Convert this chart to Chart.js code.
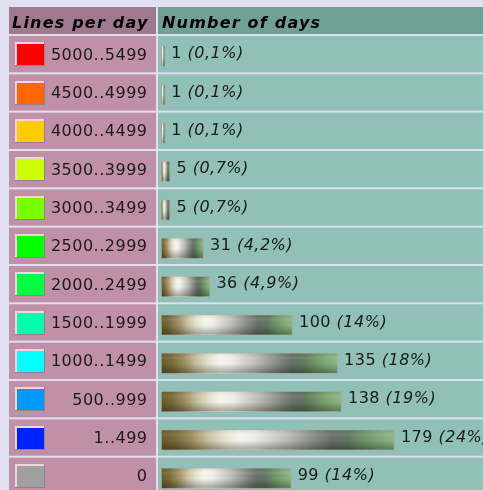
<!DOCTYPE html>
<html>
<head>
<meta charset="utf-8">
<script src="https://cdn.jsdelivr.net/npm/chart.js@4"></script>
<style>
  html, body { margin: 0; padding: 0; overflow: hidden; background: #e0e0f0; }
  #wrap { position: relative; width: 483px; height: 500px; }
</style>
</head>
<body>
<div id="wrap"><canvas id="chart"></canvas></div>
<script>
// data
const ranges = ['5000..5499', '4500..4999', '4000..4499', '3500..3999', '3000..3499', '2500..2999',
                '2000..2499', '1500..1999', '1000..1499', '500..999', '1..499', '0'];
const swatches = ['#ff0000', '#ff6600', '#ffcc00', '#ccff00', '#77ff00', '#00ff00',
                  '#00ff44', '#00ffaa', '#00ffff', '#0099ff', '#0022ff', '#a0a0a0'];
const days = [1, 1, 1, 5, 5, 31, 36, 100, 135, 138, 179, 99];
const shares = ['0,1%', '0,1%', '0,1%', '0,7%', '0,7%', '4,2%', '4,9%', '14%', '18%', '19%', '24%', '14%'];
const headers = ['Lines per day', 'Number of days'];

const FONT = '"DejaVu Sans", Verdana, sans-serif';
const BASE = -2.3; // bars are a few px longer than the value

// colours of the bar picture, left to right
const barStops = ['#6a5a28', '#7c6c3c', '#a09060', '#c8c0a0', '#e8e4d0', '#f8f8f0', '#f0f0e8', '#d8d8d0',
                  '#c0c0b8', '#a0a49c', '#808880', '#687068', '#607860', '#70946a', '#80aa78', '#90b888'];

function barFill(ctx) {
  const chart = ctx.chart;
  const x = chart.scales.x;
  if (!x || ctx.dataIndex === undefined) return '#a0a098';
  const x0 = x.getPixelForValue(BASE);
  const x1 = x.getPixelForValue(days[ctx.dataIndex]);
  if (!isFinite(x0) || !isFinite(x1) || x1 - x0 < 1) return '#a0a098';
  const g = chart.ctx.createLinearGradient(x0, 0, x1, 0);
  barStops.forEach((c, i) => g.addColorStop(i / (barStops.length - 1), c));
  return g;
}

function rowBand(chart, i) {
  const y = chart.scales.y;
  const h = (chart.chartArea.bottom - chart.chartArea.top) / ranges.length;
  const top = y.getPixelForValue(i) - h / 2 - 3.5;
  return { top: top, h: h };
}

const tablePlugin = {
  id: 'table',
  beforeDraw(chart) {
    const c = chart.ctx;
    const W = chart.width;
    c.save();
    c.fillStyle = '#e0e0f0';
    c.fillRect(0, 0, W, chart.height);

    // header
    c.fillStyle = '#a07890';
    c.fillRect(9, 7, 147, 27);
    c.fillStyle = '#70a098';
    c.fillRect(158, 7, W - 158, 27);
    c.fillStyle = '#000';
    c.font = 'italic bold 16px ' + FONT;
    c.letterSpacing = '1.2px';
    c.textBaseline = 'alphabetic';
    c.textAlign = 'left';
    c.fillText(headers[0], 12, 28);
    c.fillText(headers[1], 162, 28);

    // rows
    ranges.forEach((r, i) => {
      const b = rowBand(chart, i);
      const top = b.top + 2, h = b.h - 2;
      c.fillStyle = '#c090a8';
      c.fillRect(9, top, 147, h);
      c.fillStyle = '#90c0b8';
      c.fillRect(158, top, W - 158, h);

      // swatch with a bevelled edge
      const cy = top + h / 2;
      const sx = 15, sy = Math.round(cy - 12), sw = 30, sh = 24;
      c.fillStyle = swatches[i];
      c.fillRect(sx, sy, sw, sh);
      c.fillStyle = '#f4d4dc';
      c.fillRect(sx, sy, sw, 2);
      c.fillRect(sx, sy, 2, sh);
      c.fillStyle = '#8c8488';
      c.fillRect(sx, sy + sh - 1, sw, 1);
      c.fillRect(sx + sw - 1, sy, 1, sh);

      c.fillStyle = '#1a1a1a';
      c.font = '16px ' + FONT;
      c.letterSpacing = '0.5px';
      c.textAlign = 'right';
      c.textBaseline = 'middle';
      c.fillText(r, 147.5, cy + 1.5);
    });
    c.restore();
  },
  afterDatasetsDraw(chart) {
    const c = chart.ctx;
    const meta = chart.getDatasetMeta(0);
    c.save();
    meta.data.forEach((bar, i) => {
      const left = Math.min(bar.x, bar.base), right = Math.max(bar.x, bar.base);
      const top = bar.y - bar.height / 2;
      // vertical shading over the bar
      const g = c.createLinearGradient(0, top, 0, top + bar.height);
      g.addColorStop(0, 'rgba(0,0,0,0.10)');
      g.addColorStop(0.25, 'rgba(255,255,255,0.08)');
      g.addColorStop(0.5, 'rgba(0,0,0,0)');
      g.addColorStop(1, 'rgba(0,0,0,0.36)');
      c.fillStyle = g;
      c.fillRect(left + 1, top + 1, right - left - 2, bar.height - 2);

      // value and share
      const b = rowBand(chart, i);
      const cy = b.top + 2 + (b.h - 2) / 2;
      c.fillStyle = '#1a1a1a';
      c.textBaseline = 'middle';
      c.textAlign = 'left';
      c.letterSpacing = '0.5px';
      c.font = '16px ' + FONT;
      const num = days[i] + ' ';
      const x0 = right + 6;
      c.fillText(num, x0, cy);
      const w = c.measureText(num).width;
      c.font = 'italic 16px ' + FONT;
      c.fillText('(' + shares[i] + ')', x0 + w, cy);
    });
    c.restore();
  }
};

new Chart(document.getElementById('chart'), {
  type: 'bar',
  data: {
    labels: ranges,
    datasets: [{
      data: days,
      base: BASE,
      backgroundColor: barFill,
      borderColor: '#a8b0a8',
      borderWidth: 1,
      borderSkipped: false,
      barThickness: 21
    }]
  },
  options: {
    indexAxis: 'y',
    responsive: true,
    maintainAspectRatio: false,
    animation: false,
    layout: { padding: { left: 161, right: 0, top: 37.5, bottom: 2.5 } },
    scales: {
      x: { display: false, min: BASE, max: BASE + 322 / 1.29 },
      y: { display: false }
    },
    plugins: {
      legend: { display: false },
      tooltip: { enabled: false }
    }
  },
  plugins: [tablePlugin]
});
</script>
</body>
</html>
